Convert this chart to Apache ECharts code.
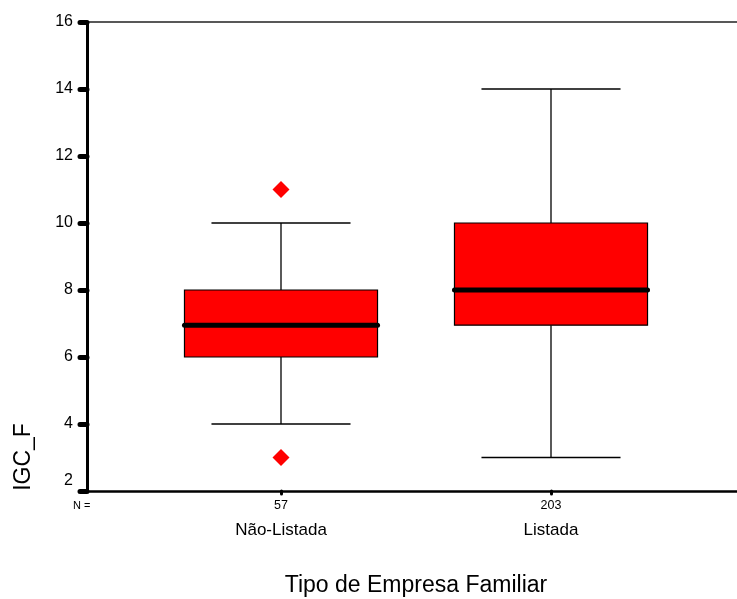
<!DOCTYPE html>
<html>
<head>
<meta charset="utf-8">
<script src="https://cdn.jsdelivr.net/npm/echarts@6/dist/echarts.min.js"></script>
<style>
	html, body { margin: 0; padding: 0; background: #fff; }
	#main { width: 737px; height: 599px; }
</style>
</head>
<body>
<div id="main"></div>
<script>
// groups on the x axis and their N
var categories = ['Não-Listada', 'Listada'];
var counts = [57, 203];
// box summary per group
var whiskerLow = [4, 3];
var q1 = [6, 6.95];
var median = [6.95, 8];
var q3 = [8, 10];
var whiskerHigh = [10, 14];
// outliers (group index, value)
var outlierGroup = [0, 0];
var outlierValue = [11, 3];
var yTicks = [2, 4, 6, 8, 10, 12, 14, 16];

var font = 'Liberation Sans, Arial, sans-serif';

var boxData = [];
for (var i = 0; i < categories.length; i++) {
	boxData.push([i, whiskerLow[i], q1[i], median[i], q3[i], whiskerHigh[i]]);
}
var outlierData = [];
for (var j = 0; j < outlierGroup.length; j++) {
	outlierData.push([outlierGroup[j], outlierValue[j]]);
}

function renderBox(params, api) {
	var x = api.value(0);
	var lo = api.coord([x, api.value(1)]);
	var b1 = api.coord([x, api.value(2)]);
	var md = api.coord([x, api.value(3)]);
	var b3 = api.coord([x, api.value(4)]);
	var hi = api.coord([x, api.value(5)]);
	var band = api.size([1, 0])[0];
	var boxW = band * 0.715;
	var capW = band * 0.515;
	var cx = md[0];
	var thin = { stroke: '#000', lineWidth: 1.3 };
	return {
		type: 'group',
		children: [
			{ type: 'line', shape: { x1: cx, y1: hi[1], x2: cx, y2: b3[1] }, style: thin },
			{ type: 'line', shape: { x1: cx, y1: b1[1], x2: cx, y2: lo[1] }, style: thin },
			{ type: 'line', shape: { x1: cx - capW / 2, y1: hi[1], x2: cx + capW / 2, y2: hi[1] }, style: thin },
			{ type: 'line', shape: { x1: cx - capW / 2, y1: lo[1], x2: cx + capW / 2, y2: lo[1] }, style: thin },
			{
				type: 'rect',
				shape: { x: cx - boxW / 2, y: b3[1], width: boxW, height: b1[1] - b3[1] },
				style: { fill: '#ff0000', stroke: '#000', lineWidth: 1.2 }
			},
			{
				type: 'line',
				shape: { x1: cx - boxW / 2, y1: md[1], x2: cx + boxW / 2, y2: md[1] },
				style: { stroke: '#000', lineWidth: 5, lineCap: 'round' }
			}
		]
	};
}

var myChart = echarts.init(document.getElementById('main'));
var option = {
	backgroundColor: '#fff',
	animation: false,
	grid: [
		{ left: 87, top: 22, right: 0, bottom: 108, outerBoundsMode: 'none', containLabel: false },
		{ left: 146, top: 22, width: 540, bottom: 108, outerBoundsMode: 'none', containLabel: false }
	],
	xAxis: [
		{
			gridIndex: 0, type: 'value', min: 0, max: 1, position: 'bottom',
			axisLine: { show: true, lineStyle: { color: '#000', width: 2.5 } },
			axisTick: { show: false }, axisLabel: { show: false }, splitLine: { show: false }
		},
		{
			gridIndex: 0, type: 'value', min: 0, max: 1, position: 'top',
			axisLine: { show: true, lineStyle: { color: '#222', width: 1.6 } },
			axisTick: { show: false }, axisLabel: { show: false }, splitLine: { show: false }
		},
		{
			gridIndex: 1, type: 'category', data: categories, position: 'bottom',
			axisLine: { show: false },
			axisTick: { show: true, alignWithLabel: true, length: 3, lineStyle: { color: '#000', width: 3, cap: 'round' } },
			axisLabel: {
				margin: 8,
				formatter: function(value, idx) {
					return '{n|' + counts[idx] + '}\n{c|' + value + '}';
				},
				rich: {
					n: { fontFamily: font, fontSize: 12.5, color: '#000', lineHeight: 14 },
					c: { fontFamily: font, fontSize: 17, color: '#000', lineHeight: 34 }
				}
			},
			name: 'Tipo de Empresa Familiar',
			nameLocation: 'middle',
			nameGap: 83,
			nameTextStyle: { fontFamily: font, fontSize: 23, color: '#000' }
		}
	],
	yAxis: [
		{
			gridIndex: 0, type: 'value', min: 2, max: 16, interval: 2,
			axisLine: { show: true, lineStyle: { color: '#000', width: 3 } },
			axisTick: { show: true, length: 7, lineStyle: { color: '#000', width: 5, cap: 'round' } },
			splitLine: { show: false },
			axisLabel: {
				margin: 14,
				formatter: function(v) {
					return v === yTicks[0] ? '{low|' + v + '}' : '{n|' + v + '}';
				},
				rich: {
					n: { fontFamily: font, fontSize: 16, color: '#000' },
					low: { fontFamily: font, fontSize: 16, color: '#000', padding: [0, 0, 21, 0] }
				}
			}
		},
		{
			gridIndex: 1, type: 'value', min: 2, max: 16, interval: 2, show: false
		}
	],
	graphic: [
		{
			type: 'text', left: 73, top: 500,
			style: { text: 'N =', fontFamily: font, fontSize: 11, fill: '#000' }
		},
		{
			type: 'text', x: 23.5, y: 457, rotation: Math.PI / 2,
			style: { text: 'IGC_F', fontFamily: font, fontSize: 23, fill: '#000', align: 'center', verticalAlign: 'middle' }
		}
	],
	series: [
		{
			type: 'custom',
			xAxisIndex: 2,
			yAxisIndex: 1,
			renderItem: renderBox,
			data: boxData
		},
		{
			type: 'scatter',
			xAxisIndex: 2,
			yAxisIndex: 1,
			symbol: 'diamond',
			symbolSize: [17, 17],
			itemStyle: { color: '#ff0000', opacity: 1 },
			emphasis: { disabled: true },
			data: outlierData
		}
	]
};
myChart.setOption(option);
</script>
</body>
</html>
